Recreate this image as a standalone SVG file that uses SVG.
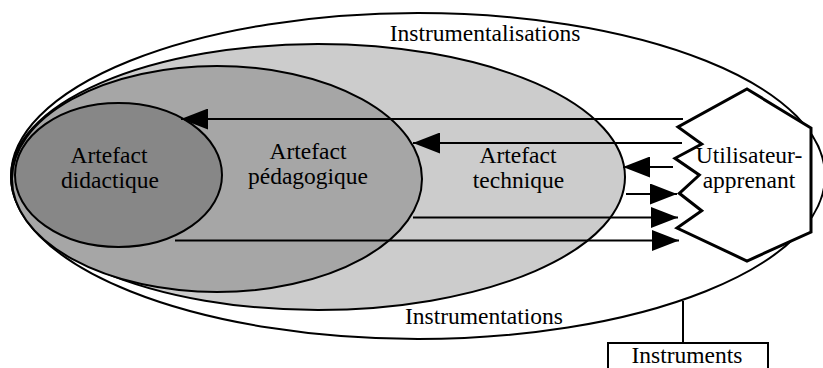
<svg xmlns="http://www.w3.org/2000/svg" width="823" height="368" viewBox="0 0 823 368">
<defs>
<style>
.sh{stroke:#000;stroke-width:2}
.t{font-family:"Liberation Serif","Times New Roman",serif;font-size:23.5px;fill:#000;text-anchor:middle}
.ln{stroke:#000;stroke-width:2;fill:none}
</style>
<marker id="ah" viewBox="0 0 27 21" refX="27" refY="10.5" markerWidth="27" markerHeight="21" markerUnits="userSpaceOnUse" orient="auto">
<path d="M0,0 L27,10.5 L0,21 Z" fill="#000"/>
</marker>
</defs>
<rect width="823" height="368" fill="#fff"/>
<g id="instrumentalisations">
<ellipse class="sh" cx="418" cy="176" rx="407" ry="163" fill="#fff"/>
<text class="t" x="485" y="41">Instrumentalisations</text>
<text class="t" x="484" y="324">Instrumentations</text>
</g>
<g id="artefact-technique">
<ellipse class="sh" cx="318" cy="177" rx="307" ry="133" fill="#cccccc"/>
</g>
<g id="artefact-pedagogique">
<ellipse class="sh" cx="217" cy="179" rx="205" ry="113" fill="#a6a6a6"/>
</g>
<g id="artefact-didactique">
<ellipse class="sh" cx="118.5" cy="175" rx="103.5" ry="72" fill="#878787"/>
<text class="t" x="109" y="163">Artefact</text>
<text class="t" x="110" y="188">didactique</text>
</g>
<g id="labels-inner">
<text class="t" x="308" y="159">Artefact</text>
<text class="t" x="308" y="184">pédagogique</text>
<text class="t" x="518" y="163">Artefact</text>
<text class="t" x="518.5" y="188">technique</text>
</g>
<g id="utilisateur-apprenant">
<polygon points="747,89 811,128 811,232 747,261 677,228 701.7,210.7 679.3,193.3 699.3,175 675,158.3 701.7,144 678,127" fill="#fff" stroke="#000" stroke-width="3" stroke-linejoin="miter"/>
<text class="t" x="749" y="163">Utilisateur-</text>
<text class="t" x="749" y="188">apprenant</text>
</g>
<g id="instruments">
<line class="ln" x1="683" y1="301" x2="683" y2="343"/>
<rect x="608" y="343" width="160" height="32" fill="#fff" stroke="#000" stroke-width="2"/>
<text class="t" x="687" y="363">Instruments</text>
</g>
<g id="connectors">
<line class="ln" x1="683" y1="119" x2="181" y2="119" marker-end="url(#ah)"/>
<line class="ln" x1="682" y1="143" x2="413" y2="143" marker-end="url(#ah)"/>
<line class="ln" x1="673" y1="167" x2="623" y2="167" marker-end="url(#ah)"/>
<line class="ln" x1="626" y1="194" x2="677" y2="194" marker-end="url(#ah)"/>
<line class="ln" x1="413" y1="217.5" x2="678" y2="217.5" marker-end="url(#ah)"/>
<line class="ln" x1="175" y1="240.5" x2="679" y2="240.5" marker-end="url(#ah)"/>
</g>
</svg>
